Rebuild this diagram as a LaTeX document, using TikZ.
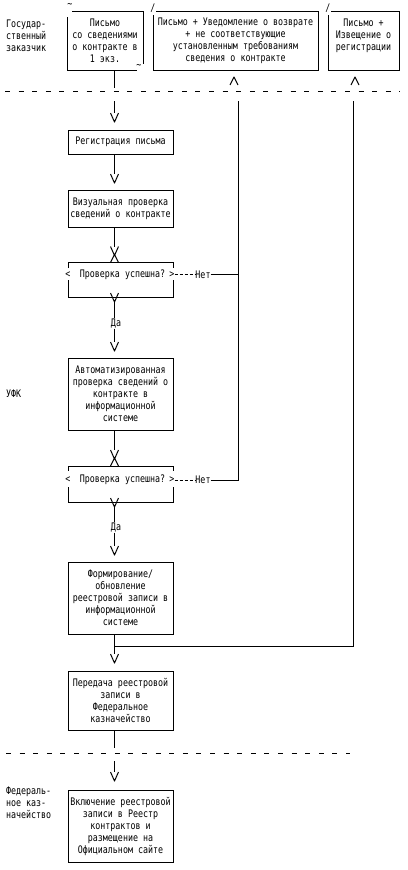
\documentclass[tikz,border=0pt]{standalone}
\usepackage{fontspec}
\setmainfont{DejaVu Sans Mono}[FakeStretch=0.8]
\usetikzlibrary{calc}
\tikzset{
  txt/.style={font=\fontsize{10.4}{12}\selectfont, inner sep=0pt, outer sep=0pt},
  box/.style={txt, draw, align=center, minimum width=105pt},
  frm/.style={txt, align=center},
  side/.style={txt, align=left, anchor=west},
  vdn/.pic={\draw[line width=1pt, line join=round] (-4,0) -- (0,9) -- (4,0);},
  vup/.pic={\draw[line width=1pt, line join=round] (-4,0) -- (0,-8) -- (4,0);},
  divider/.style={dash pattern=on 5pt off 8.6pt},
  nolink/.style={dash pattern=on 3pt off 2pt}
}
\begin{document}
\begin{tikzpicture}[x=1pt,y=-1pt,line width=1pt]
\useasboundingbox (0,0) rectangle (407,870);
\fill[white] (0,0) rectangle (407,870);
\coordinate (sp) at (114.5,0);

% lane labels
\node[side] (lgz) at (6,36) {Государ-\\ственный\\заказчик};
\node[side] (lufk) at (6,393.5) {УФК};
\node[side] (lfk) at (6,803) {Федераль-\\ное каз-\\начейство};

% top boxes
\node[frm, minimum width=76pt, minimum height=59pt] (b1) at (105,40.5) {Письмо\\со сведениями\\о контракте в\\1 экз.};
\node[frm, minimum width=165pt, minimum height=59pt] (b2) at (235.5,40.5) {Письмо + Уведомление о возврате\\+ не соответствующие\\установленным требованиям\\сведения о контракте};
\node[frm, minimum width=71pt, minimum height=59pt] (b3) at (363.5,40.5) {Письмо +\\Извещение о\\регистрации\\\mbox{}};

\draw ($(b1.north west)+(5,0)$) -- (b1.north east) -- ($(b1.south east)+(0,-6)$);
\draw ($(b1.north west)+(0,6)$) -- (b1.south west) -- ($(b1.south east)+(-6,0)$);
\node[txt] (b1m1) at ($(b1.north west)+(3,-5)$) {\textasciitilde};
\node[txt] (b1m2) at ($(b1.south east)+(-4,-3)$) {\textasciitilde};
\draw ($(b2.north west)+(3,0)$) -- (b2.north east) -- (b2.south east) -- (b2.south west) -- ($(b2.north west)+(0,4)$);
\node[txt] (b2m) at ($(b2.north west)+(0,-3)$) {/};
\draw ($(b3.north west)+(3,0)$) -- (b3.north east) -- (b3.south east) -- (b3.south west) -- ($(b3.north west)+(0,4)$);
\node[txt] (b3m) at ($(b3.north west)+(0,-3)$) {/};

% main column
\node[box, minimum height=24pt] (r1) at (120.5,142) {Регистрация письма};
\node[box, minimum height=37pt] (r2) at (120.5,208.5) {Визуальная проверка\\сведений о контракте};
\node[frm, minimum width=105pt, minimum height=35pt] (d1) at (120.5,280) {};
\node[txt] (d1t) at (122.5,274.5) {Проверка успешна?};
\node[txt] (d1l) at (d1.west |- d1t) {<};
\node[txt] (d1r) at ($(d1.east |- d1t)+(-1,0)$) {>};
\node[txt] (n1) at (203,274.5) {Нет};
\node[txt, inner sep=0.5pt] (da1) at (116,323.5) {Да};
\node[box, minimum height=72pt] (r3) at (120.5,394) {Автоматизированная\\проверка сведений о\\контракте в\\информационной\\системе};
\node[frm, minimum width=105pt, minimum height=36pt] (d2) at (120.5,484) {};
\node[txt] (d2t) at (122.5,480) {Проверка успешна?};
\node[txt] (d2l) at (d2.west |- d2t) {<};
\node[txt] (d2r) at ($(d2.east |- d2t)+(-1,0)$) {>};
\node[txt] (n2) at (203,480) {Нет};
\node[txt, inner sep=0.5pt] (da2) at (116,527.5) {Да};
\node[box, minimum height=72pt] (r4) at (120.5,598) {Формирование/\\обновление\\реестровой записи в\\информационной\\системе};
\node[box, minimum height=59pt] (r5) at (120.5,700.5) {Передача реестровой\\записи в\\Федеральное\\казначейство};
\node[box, minimum height=72pt] (r6) at (120.5,826) {Включение реестровой\\записи в Реестр\\контрактов и\\размещение на\\Официальном сайте};

% decision frames
\draw ($(d1.north west)+(0,5.5)$) -- (d1.north west) -- (d1.north east) -- ($(d1.north east)+(0,5.5)$);
\draw ($(d1.south west)+(0,-17.5)$) -- (d1.south west) -- (d1.south east) -- ($(d1.south east)+(0,-17.5)$);
\pic at (d1.north -| sp) {vup};
\pic at ($(d1.south -| sp)+(0,-4.5)$) {vdn};
\draw ($(d2.north west)+(0,4.5)$) -- (d2.north west) -- (d2.north east) -- ($(d2.north east)+(0,4.5)$);
\draw ($(d2.south west)+(0,-15)$) -- (d2.south west) -- (d2.south east) -- ($(d2.south east)+(0,-15)$);
\pic at (d2.north -| sp) {vup};
\pic at ($(d2.south -| sp)+(0,-4)$) {vdn};

% dividers
\coordinate (g1a) at (0,88); \coordinate (g1b) at (0,101);
\coordinate (g2a) at (0,748); \coordinate (g2b) at (0,761);
\draw[divider] (5,91) -- (400,91);
\draw[divider] (6,753) -- (350,753);

% connectors
\draw (b1.south -| sp) -- (g1a -| sp);
\draw (g1b -| sp) -- ($(r1.north -| sp)+(0,-17)$) pic {vdn};
\draw (r1.south -| sp) -- ($(r2.north -| sp)+(0,-16)$) pic {vdn};
\draw (r2.south -| sp) -- ($(d1.north -| sp)+(0,-16)$) pic {vdn};
\draw ($(d1.south -| sp)+(0,4.5)$) -- (da1.north -| sp);
\draw (da1.south -| sp) -- ($(r3.north -| sp)+(0,-16)$) pic {vdn};
\draw (r3.south -| sp) -- ($(d2.north -| sp)+(0,-16)$) pic {vdn};
\draw ($(d2.south -| sp)+(0,5)$) -- (da2.north -| sp);
\draw (da2.south -| sp) -- ($(r4.north -| sp)+(0,-16)$) pic {vdn};
\coordinate (j) at ($(r4.south -| sp)+(0,12)$);
\draw (r4.south -| sp) -- (j) -- ($(r5.north -| sp)+(0,-17)$) pic {vdn};
\draw (r5.south -| sp) -- (g2a -| sp);
\draw (g2b -| sp) -- ($(r6.north -| sp)+(0,-18)$) pic {vdn};

% return branches
\coordinate (t238) at (238,101);
\coordinate (t353) at (353.5,101);
\draw[nolink] (d1r.east) -- (n1.west);
\draw (n1.east) -- (n1.east -| t238);
\draw[nolink] (d2r.east) -- (n2.west);
\draw (n2.east) -| (t238);
\pic at ($(b2.south -| t238)+(-4,15)$) {vup};
\draw (t353) |- (j);
\pic at ($(b3.south -| t353)+(1.5,15)$) {vup};
\end{tikzpicture}
\end{document}
